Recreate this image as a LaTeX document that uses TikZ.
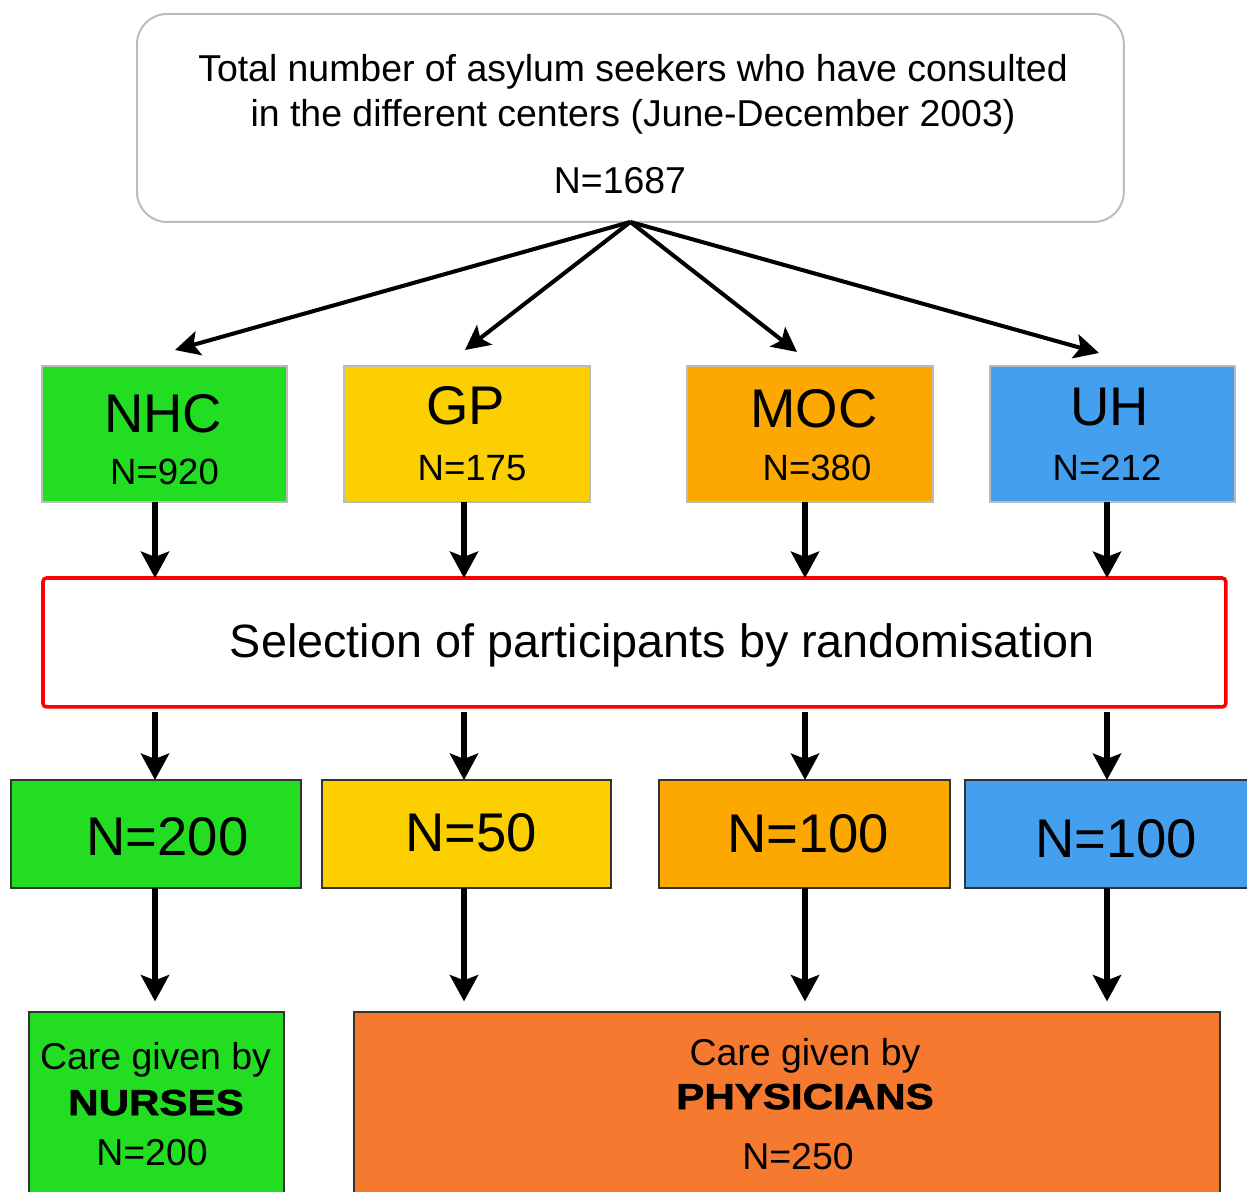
\documentclass[tikz,border=0pt]{standalone}
\usepackage{fontspec}
\usepackage{graphicx}
\setmainfont{Liberation Sans}
\newfontfamily\heavyfont[FakeBold=1.6]{Liberation Sans Bold}
\usetikzlibrary{arrows.meta,calc}
\definecolor{cgreen}{HTML}{22DD22}
\definecolor{cyellow}{HTML}{FCD000}
\definecolor{corange}{HTML}{FCA800}
\definecolor{cblue}{HTML}{44A0EE}
\definecolor{cdeep}{HTML}{F57A30}
\definecolor{cgray}{HTML}{BBBBBB}
\definecolor{cdark}{HTML}{333333}
\definecolor{cred}{HTML}{FF0000}
\newcommand\fTop{\fontsize{21.3pt}{25.6pt}\selectfont}
\newcommand\fBig{\fontsize{31pt}{36pt}\selectfont}
\newcommand\fMid{\fontsize{20.8pt}{25pt}\selectfont}
\newcommand\fSel{\fontsize{26.6pt}{32pt}\selectfont}
\newcommand\fBold{\heavyfont\fontsize{20.5pt}{25pt}\selectfont}
\begin{document}
\begin{tikzpicture}[x=0.02cm,y=-0.02cm,
  box/.style={inner sep=0pt, outer sep=0pt, anchor=north west},
  topbox/.style={box, draw=cgray, line width=1.1pt, rounded corners=0.6cm, fill=white},
  rowone/.style={box, draw=cgray, line width=1.1pt, minimum height=2.72cm},
  selbox/.style={box, draw=cred, line width=2pt, rounded corners=2pt, fill=white},
  rowtwo/.style={box, draw=cdark, line width=1.4pt, minimum height=2.16cm},
  bottombox/.style={box, draw=cdark, line width=1.4pt, minimum height=4cm},
  txt/.style={anchor=base, inner sep=0pt},
  fanarrow/.style={line width=2.3pt, -{Stealth[length=14pt,width=14pt,inset=3pt]}},
  downarrow/.style={line width=3.4pt, -{Stealth[length=15pt,width=16pt,inset=3pt]}}]
\clip (0,0) rectangle (1247,1192);
\fill[white] (0,0) rectangle (1247,1192);

% top box
\node[topbox, minimum width=19.74cm, minimum height=4.16cm] (top) at (137,14) {};
\node[txt] (t1) at (633,82) {\fTop Total number of asylum seekers who have consulted};
\node[txt] (t2) at (633,127) {\fTop in the different centers (June-December 2003)};
\node[txt] (t3) at (620,194) {\fTop N=1687};

% row one
\node[rowone, fill=cgreen, minimum width=4.9cm] (nhc) at (42,366) {};
\node[rowone, fill=cyellow, minimum width=4.92cm] (gp) at (344,366) {};
\node[rowone, fill=corange, minimum width=4.92cm] (moc) at (687,366) {};
\node[rowone, fill=cblue, minimum width=4.9cm] (uh) at (990,366) {};
\node[txt] (nhcl) at (163,433) {\fBig NHC};
\node[txt] (nhcn) at (164.5,484) {\fMid N=920};
\node[txt] (gpl) at (465.5,425) {\fBig GP};
\node[txt] (gpn) at (472,480) {\fMid N=175};
\node[txt] (mocl) at (814,428) {\fBig MOC};
\node[txt] (mocn) at (817,480) {\fMid N=380};
\node[txt] (uhl) at (1109.5,426) {\fBig UH};
\node[txt] (uhn) at (1107,480) {\fMid N=212};

% selection box
\node[selbox, minimum width=23.66cm, minimum height=2.58cm] (sel) at (43,578) {};
\node[txt] (sell) at (662.5,657) {\fSel Selection of participants by randomisation};

% row two
\node[rowtwo, fill=cgreen, minimum width=5.8cm] (ra) at (11,780) {};
\node[rowtwo, fill=cyellow, minimum width=5.78cm] (rb) at (322,780) {};
\node[rowtwo, fill=corange, minimum width=5.82cm] (rc) at (659,780) {};
\node[rowtwo, fill=cblue, minimum width=5.8cm] (rd) at (965,780) {};
\node[txt] (ral) at (167.5,855) {\fBig N=200};
\node[txt] (rbl) at (471,851) {\fBig N=50};
\node[txt] (rcl) at (808,852) {\fBig N=100};
\node[txt] (rdl) at (1116,857) {\fBig N=100};

% bottom boxes
\node[bottombox, fill=cgreen, minimum width=5.1cm] (nurse) at (29,1012) {};
\node[bottombox, fill=cdeep, minimum width=17.32cm] (phys) at (354,1012) {};
\node[txt] (nu1) at (155.5,1069) {\fTop Care given by};
\node[txt] (nu2) at (156,1115) {\fBold\scalebox{1.17}[1]{NURSES}};
\node[txt] (nu3) at (152,1165) {\fTop N=200};
\node[txt] (ph1) at (805,1065) {\fTop Care given by};
\node[txt] (ph2) at (805,1109) {\fBold\scalebox{1.17}[1]{PHYSICIANS}};
\node[txt] (ph3) at (798,1169) {\fTop N=250};

% fan arrows
\coordinate (e1) at (175,350);
\coordinate (e2) at (465,350);
\coordinate (e3) at (797,352);
\coordinate (e4) at (1099,353);
\foreach \e in {e1,e2,e3,e4} \draw[fanarrow] (top.south) -- (\e);

% columns
\coordinate (c1) at (155,0);
\coordinate (c2) at (464,0);
\coordinate (c3) at (805,0);
\coordinate (c4) at (1107,0);

\draw[downarrow] (nhc.south -| c1) -- (sel.north -| c1);
\draw[downarrow] (gp.south -| c2) -- (sel.north -| c2);
\draw[downarrow] (moc.south -| c3) -- (sel.north -| c3);
\draw[downarrow] (uh.south -| c4) -- (sel.north -| c4);

\draw[downarrow, shorten <=3pt] (sel.south -| c1) -- (ra.north -| c1);
\draw[downarrow, shorten <=3pt] (sel.south -| c2) -- (rb.north -| c2);
\draw[downarrow, shorten <=3pt] (sel.south -| c3) -- (rc.north -| c3);
\draw[downarrow, shorten <=3pt] (sel.south -| c4) -- (rd.north -| c4);

\draw[downarrow, shorten >=6pt] (ra.south -| c1) -- (nurse.north -| c1);
\draw[downarrow, shorten >=6pt] (rb.south -| c2) -- (phys.north -| c2);
\draw[downarrow, shorten >=6pt] (rc.south -| c3) -- (phys.north -| c3);
\draw[downarrow, shorten >=6pt] (rd.south -| c4) -- (phys.north -| c4);
\end{tikzpicture}
\end{document}
